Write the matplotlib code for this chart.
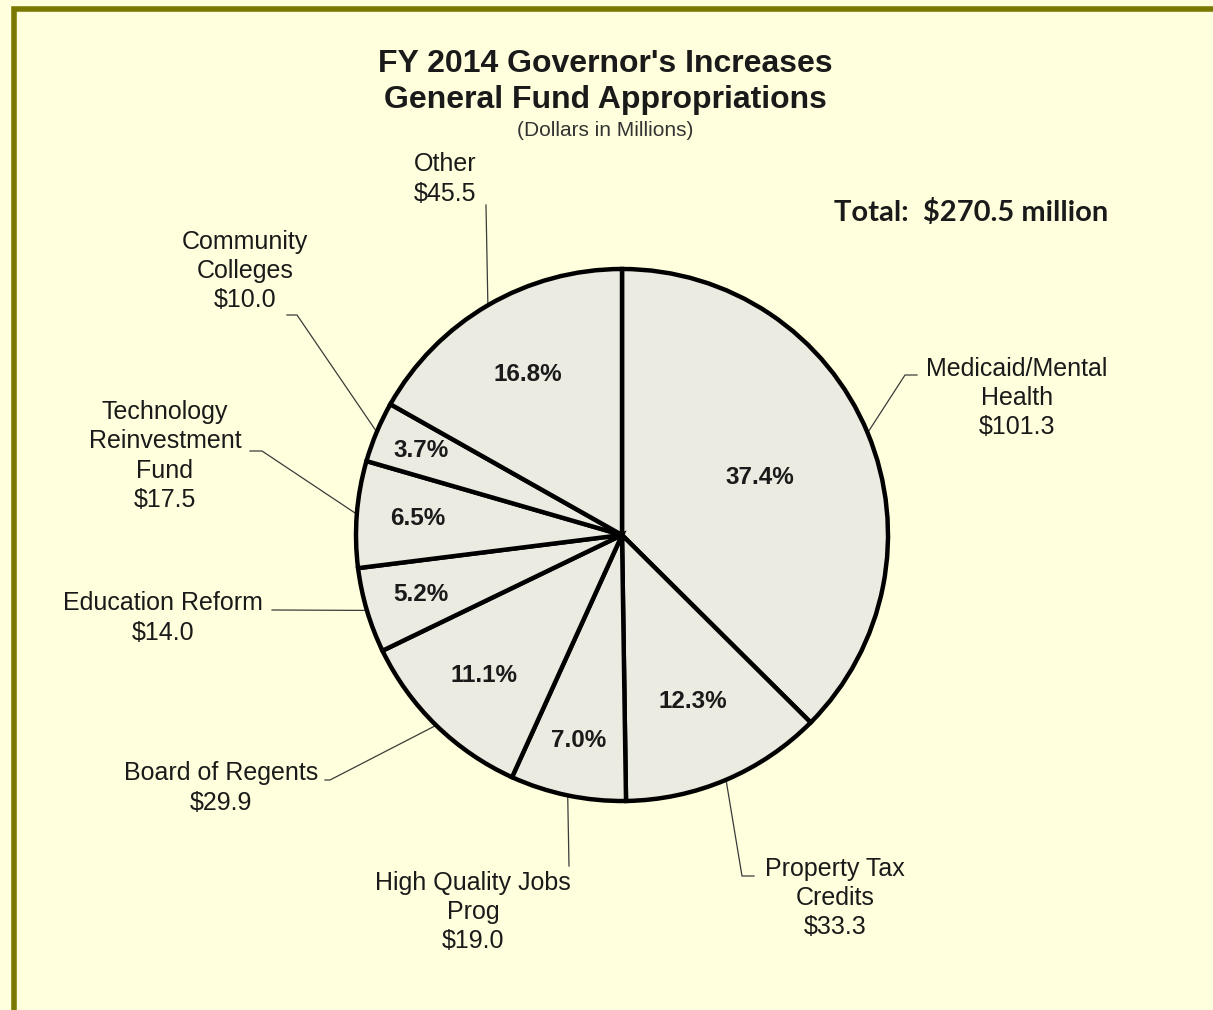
import numpy as np
import matplotlib
matplotlib.use("Agg")
import matplotlib.pyplot as plt
from matplotlib.patches import Rectangle

# FY 2014 increases, dollars in millions
categories = ["Medicaid/Mental\nHealth", "Property Tax\nCredits", "High Quality Jobs\nProg",
              "Board of Regents", "Education Reform", "Technology\nReinvestment\nFund",
              "Community\nColleges", "Other"]
values = [101.3, 33.3, 19.0, 29.9, 14.0, 17.5, 10.0, 45.5]
total = sum(values)

W, H = 1213, 1010
def px(x, y):
    # image pixel -> data coords (y flipped)
    return x, H - y

# label layout (image pixels): text centre, knee of leader line, end of leader line
label_pos = [(1017, 398), (835, 898), (473, 912), (221, 788), (163, 618), (165, 456), (245, 271), (445, 179)]
knees = [(905, 375), (742, 876), (569, 866), (330, 780), (275, 610), (262, 451), (297, 315), (486, 205)]
ends = [(917, 375), (754, 876), (569, 866), (325, 780), (272, 610), (250, 451), (287, 315), (486, 205)]
pct_r = [0.56, 0.68, 0.79, 0.74, 0.79, 0.77, 0.82, 0.70]

plt.rcParams['font.family'] = ['Liberation Sans', 'DejaVu Sans']
txt = '#1a1a1a'

fig = plt.figure(figsize=(W / 100, H / 100), dpi=100, facecolor='#ffffdd')
ax = fig.add_axes([0, 0, 1, 1])

cx, cy = px(622, 535)
R = 266
wedges, _ = ax.pie(values, startangle=90, counterclock=False, center=(cx, cy), radius=R,
                   colors=['#ecebe2'] * len(values),
                   wedgeprops=dict(edgecolor='black', linewidth=3.2))
# pie() resets the limits, so set them afterwards
ax.set_xlim(0, W)
ax.set_ylim(0, H)
ax.set_aspect('equal')
ax.axis('off')

for w, v, lab, lp, kn, en, pr in zip(wedges, values, categories, label_pos, knees, ends, pct_r):
    mid = np.deg2rad((w.theta1 + w.theta2) / 2)
    ax.text(cx + pr * R * np.cos(mid), cy + pr * R * np.sin(mid), "%.1f%%" % (v / total * 100),
            ha='center', va='center', fontsize=17.5, fontweight='bold', color=txt)
    ex, ey = cx + R * np.cos(mid), cy + R * np.sin(mid)
    k = px(*kn)
    e = px(*en)
    ax.plot([ex, k[0], e[0]], [ey, k[1], e[1]], color='#3a3a3a', lw=0.9, zorder=0)
    ax.text(*px(*lp), "%s\n$%.1f" % (lab, v), ha='center', va='center', fontsize=18,
            color=txt, linespacing=1.27)

ax.text(*px(605, 82), "FY 2014 Governor's Increases\nGeneral Fund Appropriations",
        ha='center', va='center', fontsize=23, fontweight='bold', color=txt, linespacing=1.25)
ax.text(*px(605, 131), "(Dollars in Millions)", ha='center', va='center', fontsize=15,
        color='#333333')
ax.text(*px(971, 213), "Total:  $270.5 million", ha='center', va='center', fontsize=21,
        fontweight='bold', color=txt, family=['Lato', 'DejaVu Sans'])

# olive frame, only top/left edges visible
ax.add_patch(Rectangle(px(13.5, 1100), 1400, 1100 - 8.5, fill=False, edgecolor='#7a7800',
                       linewidth=4, clip_on=False))

fig.savefig("out.png", dpi=100, facecolor=fig.get_facecolor())
